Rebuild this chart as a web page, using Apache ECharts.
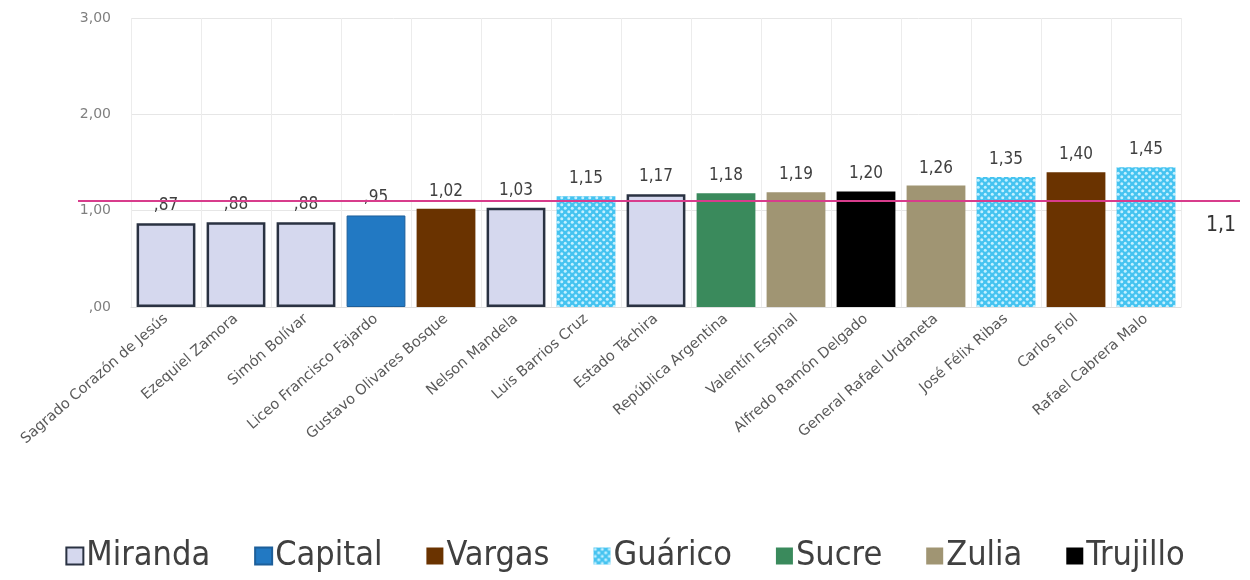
<!DOCTYPE html>
<html><head><meta charset="utf-8">
<script src="https://cdn.jsdelivr.net/npm/echarts@6/dist/echarts.min.js"></script>
<style>html,body{margin:0;padding:0;background:#fff}#c{width:1250px;height:580px}</style>
</head><body><div id="c"></div>
<script>
const categories = ["Sagrado Corazón de Jesús","Ezequiel Zamora","Simón Bolívar","Liceo Francisco Fajardo","Gustavo Olivares Bosque","Nelson Mandela","Luis Barrios Cruz","Estado Táchira","República Argentina","Valentín Espinal","Alfredo Ramón Delgado","General Rafael Urdaneta","José Félix Ribas","Carlos Fiol","Rafael Cabrera Malo"];
const values = [0.87,0.88,0.88,0.95,1.02,1.03,1.15,1.17,1.18,1.19,1.20,1.26,1.35,1.40,1.45];
const states = ["Miranda","Miranda","Miranda","Capital","Vargas","Miranda","Guárico","Miranda","Sucre","Zulia","Trujillo","Zulia","Guárico","Vargas","Guárico"];
const legendNames = ["Miranda","Capital","Vargas","Guárico","Sucre","Zulia","Trujillo"];
const referenceValue = 1.1;
const yTicks = [0,1,2,3];

function dotPattern(){
  const c = document.createElement('canvas'); c.width = 7; c.height = 7;
  const g = c.getContext('2d');
  g.fillStyle = '#45c3f0'; g.fillRect(0,0,7,7);
  g.fillStyle = '#c4f0ff';
  g.beginPath(); g.arc(1.75,1.75,1.5,0,Math.PI*2); g.fill();
  g.beginPath(); g.arc(5.25,5.25,1.5,0,Math.PI*2); g.fill();
  return c;
}
const styles = {
  "Miranda": {color:'#d5d8ee', borderColor:'#2a3242', borderWidth:2.5},
  "Capital": {color:'#2279c3', borderColor:'#1d5f9a', borderWidth:1},
  "Vargas": {color:'#6a3300'},
  "Guárico": {color:{image:dotPattern(), repeat:'repeat'}},
  "Sucre": {color:'#3a8a5c'},
  "Zulia": {color:'#a09573'},
  "Trujillo": {color:'#000000'}
};
const fmt = v => { const s = v.toFixed(2).replace('.', ','); return s.startsWith('0') ? s.slice(1) : s; };
const condensed = "'DejaVu Sans Condensed', 'Liberation Sans Narrow', 'Liberation Sans'";

const series = legendNames.map(n => ({
  name: n, type: 'bar', stack: 'all', barCategoryGap: '16%',
  itemStyle: styles[n],
  data: values.map((v,i) => states[i] === n ? v : null),
  label: {show:true, position:'top', distance:9, formatter: p => fmt(p.value), fontFamily:condensed, fontSize:17, color:'#404040'}
}));
series.push({
  name:'ref', type:'line', xAxisIndex:1, yAxisIndex:1, symbol:'none', silent:true,
  lineStyle:{color:'#d83c8c', width:2},
  data:[[0,referenceValue],[1,referenceValue]],
  label:{show:false},
  endLabel:{show:true, formatter: () => String(referenceValue).replace('.', ','), fontFamily:condensed, fontSize:21, color:'#333', offset:[-42,25]}
});

const chart = echarts.init(document.getElementById('c'));
chart.setOption({
  animation:false,
  textStyle:{fontFamily:'Liberation Sans'},
  grid:[{left:131, right:69, top:18, bottom:273},{left:78, right:10, top:18, bottom:273}],
  legend:{data:legendNames, bottom:2, left:'center', icon:'rect', itemWidth:17, itemHeight:17, itemGap:44,
    textStyle:{fontFamily:condensed, fontSize:34, color:'#404040', padding:[0,0,0,-2]}},
  xAxis:[{type:'category', data:categories, gridIndex:0,
    axisLine:{show:true, lineStyle:{color:'#e0e0e0'}}, axisTick:{show:false},
    splitLine:{show:true, lineStyle:{color:'#ececec'}},
    axisLabel:{interval:0, rotate:41, fontFamily:'DejaVu Sans', fontSize:14.5, color:'#595959', margin:10}},
    {type:'value', gridIndex:1, min:0, max:1, show:false}],
  yAxis:[{type:'value', min:0, max:3, interval:1, gridIndex:0,
    axisLabel:{formatter: v => fmt(v), fontFamily:'DejaVu Sans', fontSize:14, color:'#7f7f7f', margin:20},
    splitLine:{lineStyle:{color:'#e6e6e6'}}, axisLine:{show:false}, axisTick:{show:false}},
    {type:'value', min:0, max:3, gridIndex:1, show:false}],
  series: series
});
</script></body></html>
